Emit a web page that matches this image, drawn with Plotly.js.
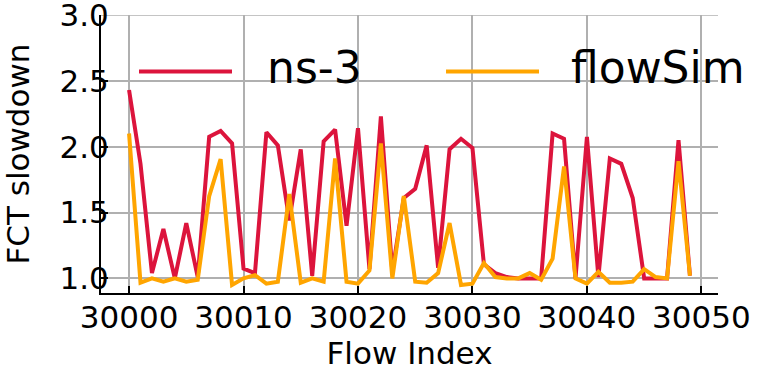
<!DOCTYPE html>
<html>
<head>
<meta charset="utf-8">
<script src="https://cdn.plot.ly/plotly-3.0.1.min.js"></script>
<style>
  body { margin: 0; background: #fff; }
  #chart { width: 764px; height: 375px; }
</style>
</head>
<body>
<div id="chart"></div>
<script>
var flowStart = 30000;
var ns3Slowdown = [
  2.43, 1.87, 1.04, 1.375, 1.0, 1.42, 1.01, 2.075, 2.12, 2.025,
  1.075, 1.04, 2.11, 2.01, 1.44, 1.98, 1.02, 2.04, 2.13, 1.40,
  2.14, 1.07, 2.23, 1.05, 1.61, 1.68, 2.01, 1.08, 1.98, 2.06,
  1.99, 1.107, 1.04, 1.01, 1.0, 1.0, 1.0, 2.10, 2.06, 1.0,
  2.075, 1.01, 1.91, 1.87, 1.61, 1.0, 1.0, 1.0, 2.05, 1.02,
];
var flowSimSlowdown = [
  2.10, 0.967, 1.0, 0.975, 1.0, 0.975, 0.99, 1.625, 1.905, 0.95,
  1.0, 1.025, 0.96, 0.975, 1.64, 0.967, 1.0, 0.975, 1.91, 0.975,
  0.96, 1.06, 2.025, 1.0, 1.625, 0.975, 0.967, 1.04, 1.42, 0.95,
  0.96, 1.117, 1.01, 1.0, 1.0, 1.04, 0.99, 1.15, 1.85, 1.0,
  0.96, 1.05, 0.967, 0.967, 0.975, 1.07, 1.01, 1.0, 1.89, 1.02,
];
var seriesNames = ["ns-3", "flowSim"];
var seriesColors = ["#DC143C", "#FFA500"];
var xTicks = [30000, 30010, 30020, 30030, 30040, 30050];
var yTicks = [1.0, 1.5, 2.0, 2.5, 3.0];

var flowIndex = ns3Slowdown.map((d, i) => flowStart + i);

var data = [ns3Slowdown, flowSimSlowdown].map((ys, i) => ({
  x: flowIndex,
  y: ys,
  type: "scatter",
  mode: "lines",
  name: seriesNames[i],
  line: { color: seriesColors[i], width: 4 },
}));

var font = { family: "DejaVu Sans", size: 31, color: "#000" };
var gridColor = "#b0b0b0";

// matplotlib-style legend: long line sample, then big label
var legendY = 0.797;
var legendSlots = [
  { x0: 0.0616, x1: 0.2123, tx: 0.265 },
  { x0: 0.5592, x1: 0.7099, tx: 0.759 },
];
var shapes = legendSlots.map((s, i) => ({
  type: "line",
  xref: "paper",
  yref: "paper",
  x0: s.x0,
  x1: s.x1,
  y0: legendY,
  y1: legendY,
  line: { color: seriesColors[i], width: 4 },
}));
// plotly drops the gridline sitting on the top edge, so put it back
var yTop = yTicks[yTicks.length - 1];
shapes.push({
  type: "line",
  xref: "paper",
  yref: "y",
  x0: 0,
  x1: 1,
  y0: yTop,
  y1: yTop,
  layer: "below",
  line: { color: gridColor, width: 1.6 },
});
var annotations = legendSlots.map((s, i) => ({
  xref: "paper",
  yref: "paper",
  x: s.tx,
  y: legendY + 0.015,
  xanchor: "left",
  yanchor: "middle",
  showarrow: false,
  text: seriesNames[i],
  font: { family: "DejaVu Sans", size: 44, color: "#000" },
}));

var axisStyle = {
  ticks: "inside",
  ticklen: 7,
  tickwidth: 2,
  tickcolor: "#000",
  showline: true,
  linecolor: "#000",
  linewidth: 2,
  showgrid: true,
  gridcolor: gridColor,
  gridwidth: 1.6,
  zeroline: false,
  tickfont: font,
  ticklabeloverflow: "allow",
};

var layout = {
  width: 764,
  height: 375,
  margin: { l: 101, r: 46, t: 15, b: 82 },
  plot_bgcolor: "#fff",
  paper_bgcolor: "#fff",
  font: font,
  showlegend: false,
  shapes: shapes,
  annotations: annotations,
  xaxis: Object.assign({}, axisStyle, {
    title: { text: "Flow Index", font: font, standoff: 6 },
    range: [29997.55, 30051.45],
    tickvals: xTicks,
    ticktext: xTicks.map(String),
    ticklabelstandoff: -4,
  }),
  yaxis: Object.assign({}, axisStyle, {
    title: { text: "FCT slowdown", font: font, standoff: 30 },
    range: [0.889, 3.0],
    tickvals: yTicks,
    ticktext: yTicks.map((v) => v.toFixed(1)),
    ticklabelstandoff: -16,
  }),
};

Plotly.newPlot("chart", data, layout, { displayModeBar: false });
</script>
</body>
</html>
